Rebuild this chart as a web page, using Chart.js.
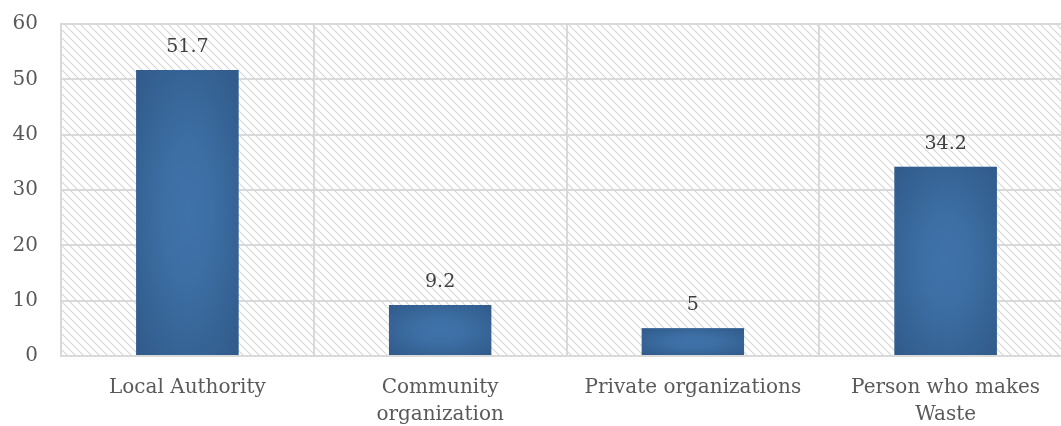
<!DOCTYPE html>
<html>
<head>
<meta charset="utf-8">
<script src="https://cdn.jsdelivr.net/npm/chart.js@4/dist/chart.umd.min.js"></script>
<style>
  html, body { margin: 0; padding: 0; background: #fff; overflow: hidden; }
  #wrap { width: 1080px; height: 426px; position: relative; }
</style>
</head>
<body>
<div id="wrap"><canvas id="chart"></canvas></div>
<script>
// Who is responsible for waste (%)
const categories = [
  ["Local Authority"],
  ["Community", "organization"],
  ["Private organizations"],
  ["Person who makes", "Waste"]
];
const shares = [51.7, 9.2, 5, 34.2];
const yTicks = [0, 10, 20, 30, 40, 50, 60];

const FONT = "'DejaVu Serif', 'Liberation Serif', serif";
const TEXT = '#595959';
const GRID = '#d9d9d9';

// diagonal hatch tile for the plot background
function makeHatch() {
  const s = 8;
  const c = document.createElement('canvas');
  c.width = s; c.height = s;
  const g = c.getContext('2d');
  g.fillStyle = '#ffffff';
  g.fillRect(0, 0, s, s);
  g.strokeStyle = '#d6d6d6';
  g.lineWidth = 1.1;
  g.beginPath();
  g.moveTo(-1, -1); g.lineTo(s + 1, s + 1);
  g.moveTo(-1, s - 1); g.lineTo(1, s + 1);
  g.moveTo(s - 1, -1); g.lineTo(s + 1, 1);
  g.stroke();
  return c;
}
const hatchTile = makeHatch();

const hatchBackground = {
  id: 'hatchBackground',
  beforeDraw(chart) {
    const { ctx, chartArea: a } = chart;
    ctx.save();
    ctx.fillStyle = ctx.createPattern(hatchTile, 'repeat');
    ctx.fillRect(a.left, a.top, a.right - a.left, a.bottom - a.top);
    ctx.restore();
  }
};

// soft elliptical shading on each bar, lighter toward the centre
const barShading = {
  id: 'barShading',
  afterDatasetsDraw(chart) {
    const ctx = chart.ctx;
    chart.getDatasetMeta(0).data.forEach(bar => {
      const p = bar.getProps(['x', 'y', 'base', 'width'], true);
      const left = p.x - p.width / 2, top = Math.min(p.y, p.base);
      const w = p.width, h = Math.abs(p.base - p.y);
      ctx.save();
      ctx.beginPath();
      ctx.rect(left, top, w, h);
      ctx.clip();
      ctx.translate(left + w / 2, top + h / 2);
      ctx.scale(w / 2, h / 2);
      const g = ctx.createRadialGradient(0, 0, 0, 0, 0, 1.5);
      g.addColorStop(0, 'rgb(63,114,169)');
      g.addColorStop(0.3, 'rgb(61,111,165)');
      g.addColorStop(1, 'rgb(47,88,135)');
      ctx.fillStyle = g;
      ctx.fillRect(-1, -1, 2, 2);
      ctx.restore();
    });
  }
};

// value written above each bar
const valueLabels = {
  id: 'valueLabels',
  afterDatasetsDraw(chart) {
    const ctx = chart.ctx;
    const ds = chart.data.datasets[0];
    ctx.save();
    ctx.font = '19px ' + FONT;
    ctx.fillStyle = '#404040';
    ctx.textAlign = 'center';
    ctx.textBaseline = 'alphabetic';
    chart.getDatasetMeta(0).data.forEach((bar, i) => {
      ctx.fillText(String(ds.data[i]), bar.x, bar.y - 18);
    });
    ctx.restore();
  }
};

new Chart(document.getElementById('chart'), {
  type: 'bar',
  data: {
    labels: categories,
    datasets: [{
      data: shares,
      backgroundColor: 'rgb(52,96,148)',
      borderWidth: 0,
      categoryPercentage: 1,
      barPercentage: 0.405
    }]
  },
  options: {
    responsive: true,
    maintainAspectRatio: false,
    animation: false,
    layout: { padding: { top: 24, right: 8, left: 0, bottom: 0 } },
    plugins: { legend: { display: false }, tooltip: { enabled: false } },
    scales: {
      x: {
        offset: true,
        grid: { color: GRID, lineWidth: 2, offset: true, drawTicks: false },
        border: { display: false },
        ticks: {
          color: TEXT,
          font: { family: FONT, size: 20, lineHeight: 1.35 },
          padding: 18,
          maxRotation: 0,
          autoSkip: false
        },
        afterFit(scale) { scale.height = 70; }
      },
      y: {
        min: 0,
        max: 60,
        afterBuildTicks(scale) { scale.ticks = yTicks.map(v => ({ value: v })); },
        grid: { color: GRID, lineWidth: 2, drawTicks: false },
        border: { display: true, color: GRID, width: 2 },
        ticks: {
          color: TEXT,
          font: { family: FONT, size: 20 },
          padding: 23
        },
        afterFit(scale) {
          scale.width = 61;
          scale.paddingTop = 0;
          scale.paddingBottom = 0;
        }
      }
    }
  },
  plugins: [hatchBackground, barShading, valueLabels]
});
</script>
</body>
</html>
